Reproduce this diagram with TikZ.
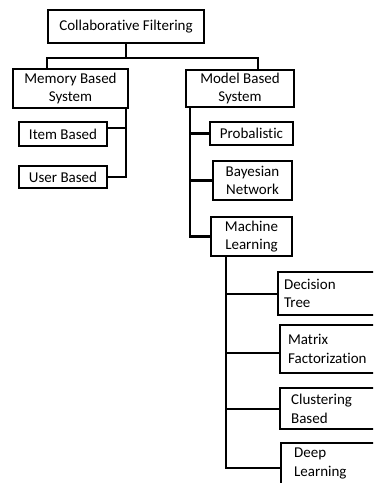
\documentclass[tikz,border=0pt]{standalone}
\usepackage{fontspec}
\setmainfont[Ligatures=NoCommon]{Carlito}
\tikzset{
  box/.style={draw, line width=2.2pt, inner sep=0pt, align=center,
    font=\fontsize{15}{18.5}\selectfont},
  leaf/.style={draw, line width=2.2pt, anchor=north west, inner ysep=0pt,
    text width=90pt, align=left, font=\fontsize{15}{18.5}\selectfont},
  link/.style={line width=2.2pt}
}
\begin{document}
\begin{tikzpicture}[x=1pt, y=-1pt]
      \useasboundingbox (0,0) rectangle (373,483);
      \clip (0,0) rectangle (373,483);
      %%root
      \node[box, minimum width=156pt, minimum height=33pt] (cf) at (126,26.5) {Collaborative Filtering};
      \node[box, minimum width=115pt, minimum height=39pt] (mem) at (70.5,88.5) {Memory Based\\System};
      \node[box, minimum width=108pt, minimum height=37pt] (mod) at (240,88.5) {Model Based\\System};
      %%memory based
      \node[box, minimum width=88pt, minimum height=24pt] (item) at (63,134) {Item Based};
      \node[box, minimum width=88pt, minimum height=22pt] (user) at (63,177) {User Based};
      %%model based
      \node[box, minimum width=83pt, minimum height=23pt] (prob) at (251.5,133.5) {Probalistic};
      \node[box, minimum width=79pt, minimum height=39pt] (bayes) at (252.5,180.5) {Bayesian\\Network};
      \node[box, minimum width=81pt, minimum height=39pt] (ml) at (251.5,236.5) {Machine\\Learning};
      %%machine learning
      \node[leaf, inner xsep=6pt, minimum height=43pt] (dt) at (277,271) {Decision\\Tree};
      \node[leaf, inner xsep=8pt, minimum height=48pt] (mf) at (279,324) {Matrix\\Factorization};
      \node[leaf, inner xsep=11pt, minimum height=41pt] (cb) at (279,387) {Clustering\\Based};
      \node[leaf, inner xsep=13pt, minimum height=41pt] (dl) at (280,442) {Deep\\Learning};

      %%top bus
      \draw[link] (cf.south) to ++(0,14) coordinate (bus);
      \draw[link] ([xshift=35pt]mem.north west) |- (bus) -| ([xshift=-37pt]mod.north east);
      %%memory side
      \draw[link] ([xshift=-3pt]mem.south east) coordinate (mtop) to (mtop |- user.east) to (user.east);
      \draw[link] ([yshift=6pt]item.east) to ([yshift=6pt]item.east -| mtop);
      %%model side
      \draw[link] ([xshift=5pt]mod.south west) coordinate (btop) to (btop |- ml.west) to (ml.west);
      \draw[link] (prob.west) to (prob.west -| btop);
      \draw[link] (bayes.west) to (bayes.west -| btop);
      %%leaves
      \draw[link] ([xshift=16pt]ml.south west) coordinate (ltop) to ([yshift=-4pt]ltop |- dl.west) to ([yshift=-4pt]dl.west);
      \draw[link] (dt.west) to (dt.west -| ltop);
      \draw[link] ([yshift=-4pt]mf.west) to ([yshift=-4pt]mf.west -| ltop);
      \draw[link] (cb.west) to (cb.west -| ltop);
\end{tikzpicture}
\end{document}
